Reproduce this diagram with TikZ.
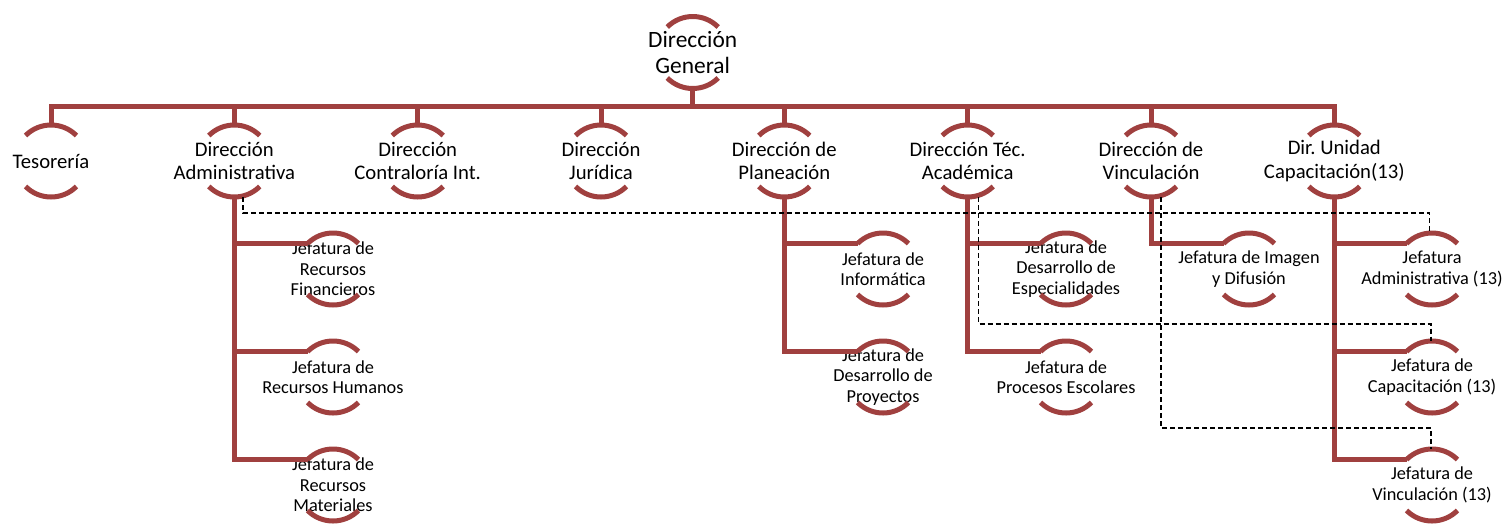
\documentclass[tikz,border=0pt]{standalone}
\usepackage{fontspec}
\setmainfont{Carlito}
\usetikzlibrary{calc}
\definecolor{orgred}{HTML}{A0403F}
\frenchspacing
\begin{document}
\begin{tikzpicture}[x=1pt,y=-1pt,
  hc/.style={circle,draw=none,inner sep=0pt,outer sep=0pt,minimum size=72pt},
  t0/.style={font=\fontsize{23.4}{25.5}\selectfont,align=center,inner sep=0pt},
  t1/.style={font=\fontsize{20.7}{23.4}\selectfont,align=center,inner sep=0pt},
  t2/.style={font=\fontsize{18.3}{20.5}\selectfont,align=center,inner sep=0pt},
  arcline/.style={draw=orgred,line width=5pt},
  conn/.style={draw=orgred,line width=5pt,line join=miter},
  dotconn/.style={draw=black,line width=1.4pt,dash pattern=on 5pt off 3pt}]
\useasboundingbox (0,0) rectangle (1507,523);

% top
\node[hc,label={[t0]center:{Dirección\\General}}] (dg) at (692.7,52.5) {};
% level 1
\node[hc,label={[t1]center:{Tesorería}}] (tes) at (51,161) {};
\node[hc,label={[t1]center:{Dirección\\Administrativa}}] (adm) at (234.3,161) {};
\node[hc,label={[t1]center:{Dirección\\Contraloría Int.}}] (con) at (417.7,161) {};
\node[hc,label={[t1]center:{Dirección\\Jurídica}}] (jur) at (601,161) {};
\node[hc,label={[t1]center:{Dirección de\\Planeación}}] (pla) at (784.3,161) {};
\node[hc,label={[t1]center:{Dirección Téc.\\Académica}}] (aca) at (967.7,161) {};
\node[hc,label={[t1]center:{Dirección de\\Vinculación}}] (vin) at (1151,161) {};
\node[hc,label={[t1]center:{Dir. Unidad\\Capacitación(13)}}] (uni) at (1334.3,161) {};
% level 2
\node[hc,label={[t2]center:{Jefatura de\\Recursos\\Financieros}}] (rf) at (333,269) {};
\node[hc,label={[t2]center:{Jefatura de\\Recursos Humanos}}] (rh) at (333,377) {};
\node[hc,label={[t2]center:{Jefatura de\\Recursos\\Materiales}}] (rm) at (333,485) {};
\node[hc,label={[t2]center:{Jefatura de\\Informática}}] (inf) at (883,269) {};
\node[hc,label={[t2]center:{Jefatura de\\Desarrollo de\\Proyectos}}] (dp) at (883,377) {};
\node[hc,label={[t2]center:{Jefatura de\\Desarrollo de\\Especialidades}}] (de) at (1066,269) {};
\node[hc,label={[t2]center:{Jefatura de\\Procesos Escolares}}] (pe) at (1066,377) {};
\node[hc,label={[t2]center:{Jefatura de Imagen\\y Difusión}}] (id) at (1249,269) {};
\node[hc,label={[t2]center:{Jefatura\\Administrativa (13)}}] (ja) at (1432,269) {};
\node[hc,label={[t2]center:{Jefatura de\\Capacitación (13)}}] (jc) at (1432,377) {};
\node[hc,label={[t2]center:{Jefatura de\\Vinculación (13)}}] (jv) at (1432,485) {};

% half-circle arcs
\foreach \n in {dg,tes,adm,con,jur,pla,aca,vin,uni,rf,rh,rm,inf,dp,de,pe,id,ja,jc,jv}
  \draw[arcline] (\n.45) arc[start angle=45,end angle=135,radius=36pt]
                 (\n.225) arc[start angle=225,end angle=315,radius=36pt];

% bus
\coordinate (bus) at (692.7,106.5);
\draw[conn] (dg.south) -- (dg.south |- bus);
\draw[conn] (tes.north) -- (tes.north |- bus) -- (uni.north |- bus) -- (uni.north);
\foreach \n in {adm,con,jur,pla,aca,vin}
  \draw[conn] (\n.north) -- (\n.north |- bus);

% children
\draw[conn] (adm.south) |- (rf.135);
\draw[conn] (adm.south) |- (rh.135);
\draw[conn] (adm.south) |- (rm.135);
\draw[conn] (pla.south) |- (inf.135);
\draw[conn] (pla.south) |- (dp.135);
\draw[conn] (aca.south) |- (de.135);
\draw[conn] (aca.south) |- (pe.135);
\draw[conn] (vin.south) |- (id.135);
\draw[conn] (uni.south) |- (ja.135);
\draw[conn] (uni.south) |- (jc.135);
\draw[conn] (uni.south) |- (jv.135);

% dashed links
\draw[dotconn] ([xshift=8.5pt]adm.south) -- ++(0,16) -| ([xshift=-2.5pt]ja.north);
\draw[dotconn] ([xshift=11pt]aca.south) -- ++(0,127) -| ([xshift=-1pt]jc.north);
\draw[dotconn] ([xshift=10pt]vin.south) -- ++(0,231) -| ([xshift=-1pt]jv.north);
\end{tikzpicture}
\end{document}
